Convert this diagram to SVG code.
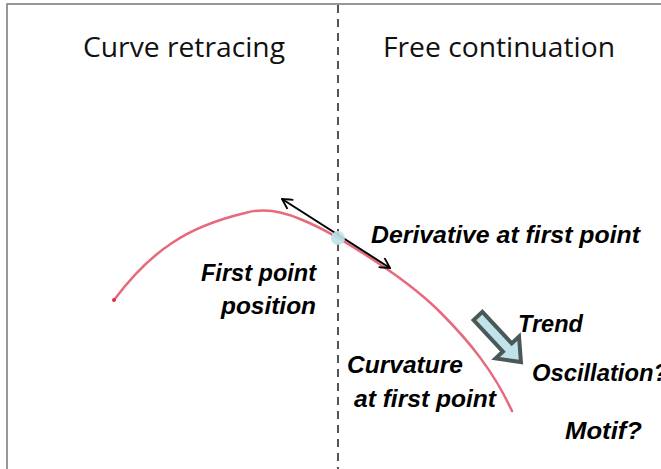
<svg xmlns="http://www.w3.org/2000/svg" width="661" height="469" viewBox="0 0 661 469">
  <defs>
    <style>
      .title { font-family: "Open Sans", "Liberation Sans", sans-serif; font-size: 27px; fill: #111; }
      .label { font-family: "Liberation Sans", Arial, sans-serif; font-size: 23px; font-weight: bold; font-style: italic; fill: #000; }
      .curve { fill: none; stroke: #e8687c; stroke-width: 2.5; stroke-linecap: round; stroke-linejoin: round; }
      .tangent { fill: none; stroke: #000; stroke-width: 2; }
    </style>
    <marker id="chev" viewBox="0 0 12 12" refX="11" refY="6" markerWidth="12" markerHeight="12" markerUnits="userSpaceOnUse" orient="auto-start-reverse">
      <path d="M1,0.5 L11,6 L1,11.5" fill="none" stroke="#000" stroke-width="1.8"/>
    </marker>
  </defs>

  <rect width="661" height="469" fill="#fff"/>

  <!-- frame and divider -->
  <path d="M7,469 V4 H661" fill="none" stroke="#777" stroke-width="1.5"/>
  <line x1="338" y1="5" x2="338" y2="469" stroke="#555" stroke-width="2" stroke-dasharray="8,6"/>

  <g id="heading-left">
    <text class="title" x="83" y="57" textLength="202" lengthAdjust="spacingAndGlyphs">Curve retracing</text>
  </g>
  <g id="heading-right">
    <text class="title" x="383" y="57" textLength="232" lengthAdjust="spacingAndGlyphs">Free continuation</text>
  </g>

  <g id="curve">
    <path class="curve" d="M114,300 C126,284 146,260 172,243 C194,228 220,219 245,213 C262,208 282,211 300,219 C315,225 328,232 338,238 C372,258 410,282 440,312 C470,342 494,372 512,411"/>
    <circle cx="114" cy="300" r="2" fill="#d33"/>
  </g>

  <g id="connectors">
    <line class="tangent" x1="282" y1="199" x2="390" y2="268" marker-start="url(#chev)" marker-end="url(#chev)"/>
  </g>

  <g id="first-point">
    <circle cx="338" cy="238" r="7" fill="#bfe3ea" opacity="0.9"/>
  </g>

  <g id="trend-arrow">
    <polygon points="0,-6 43,-6 43,-16 63,0 43,16 43,6 0,6" transform="translate(478,316) rotate(47)" fill="#bfe3e8" stroke="#4a5858" stroke-width="4" stroke-linejoin="miter"/>
  </g>

  <g id="labels">
    <text class="label" x="371" y="243" textLength="269" lengthAdjust="spacingAndGlyphs">Derivative at first point</text>
    <text class="label" x="201" y="281" textLength="115" lengthAdjust="spacingAndGlyphs">First point</text>
    <text class="label" x="221" y="314" textLength="95" lengthAdjust="spacingAndGlyphs">position</text>
    <text class="label" x="518" y="332" textLength="65" lengthAdjust="spacingAndGlyphs">Trend</text>
    <text class="label" x="532" y="381" textLength="136" lengthAdjust="spacingAndGlyphs">Oscillation?</text>
    <text class="label" x="347" y="373" textLength="116" lengthAdjust="spacingAndGlyphs">Curvature</text>
    <text class="label" x="354" y="407" textLength="142" lengthAdjust="spacingAndGlyphs">at first point</text>
    <text class="label" x="565" y="439" textLength="77" lengthAdjust="spacingAndGlyphs">Motif?</text>
  </g>
</svg>
